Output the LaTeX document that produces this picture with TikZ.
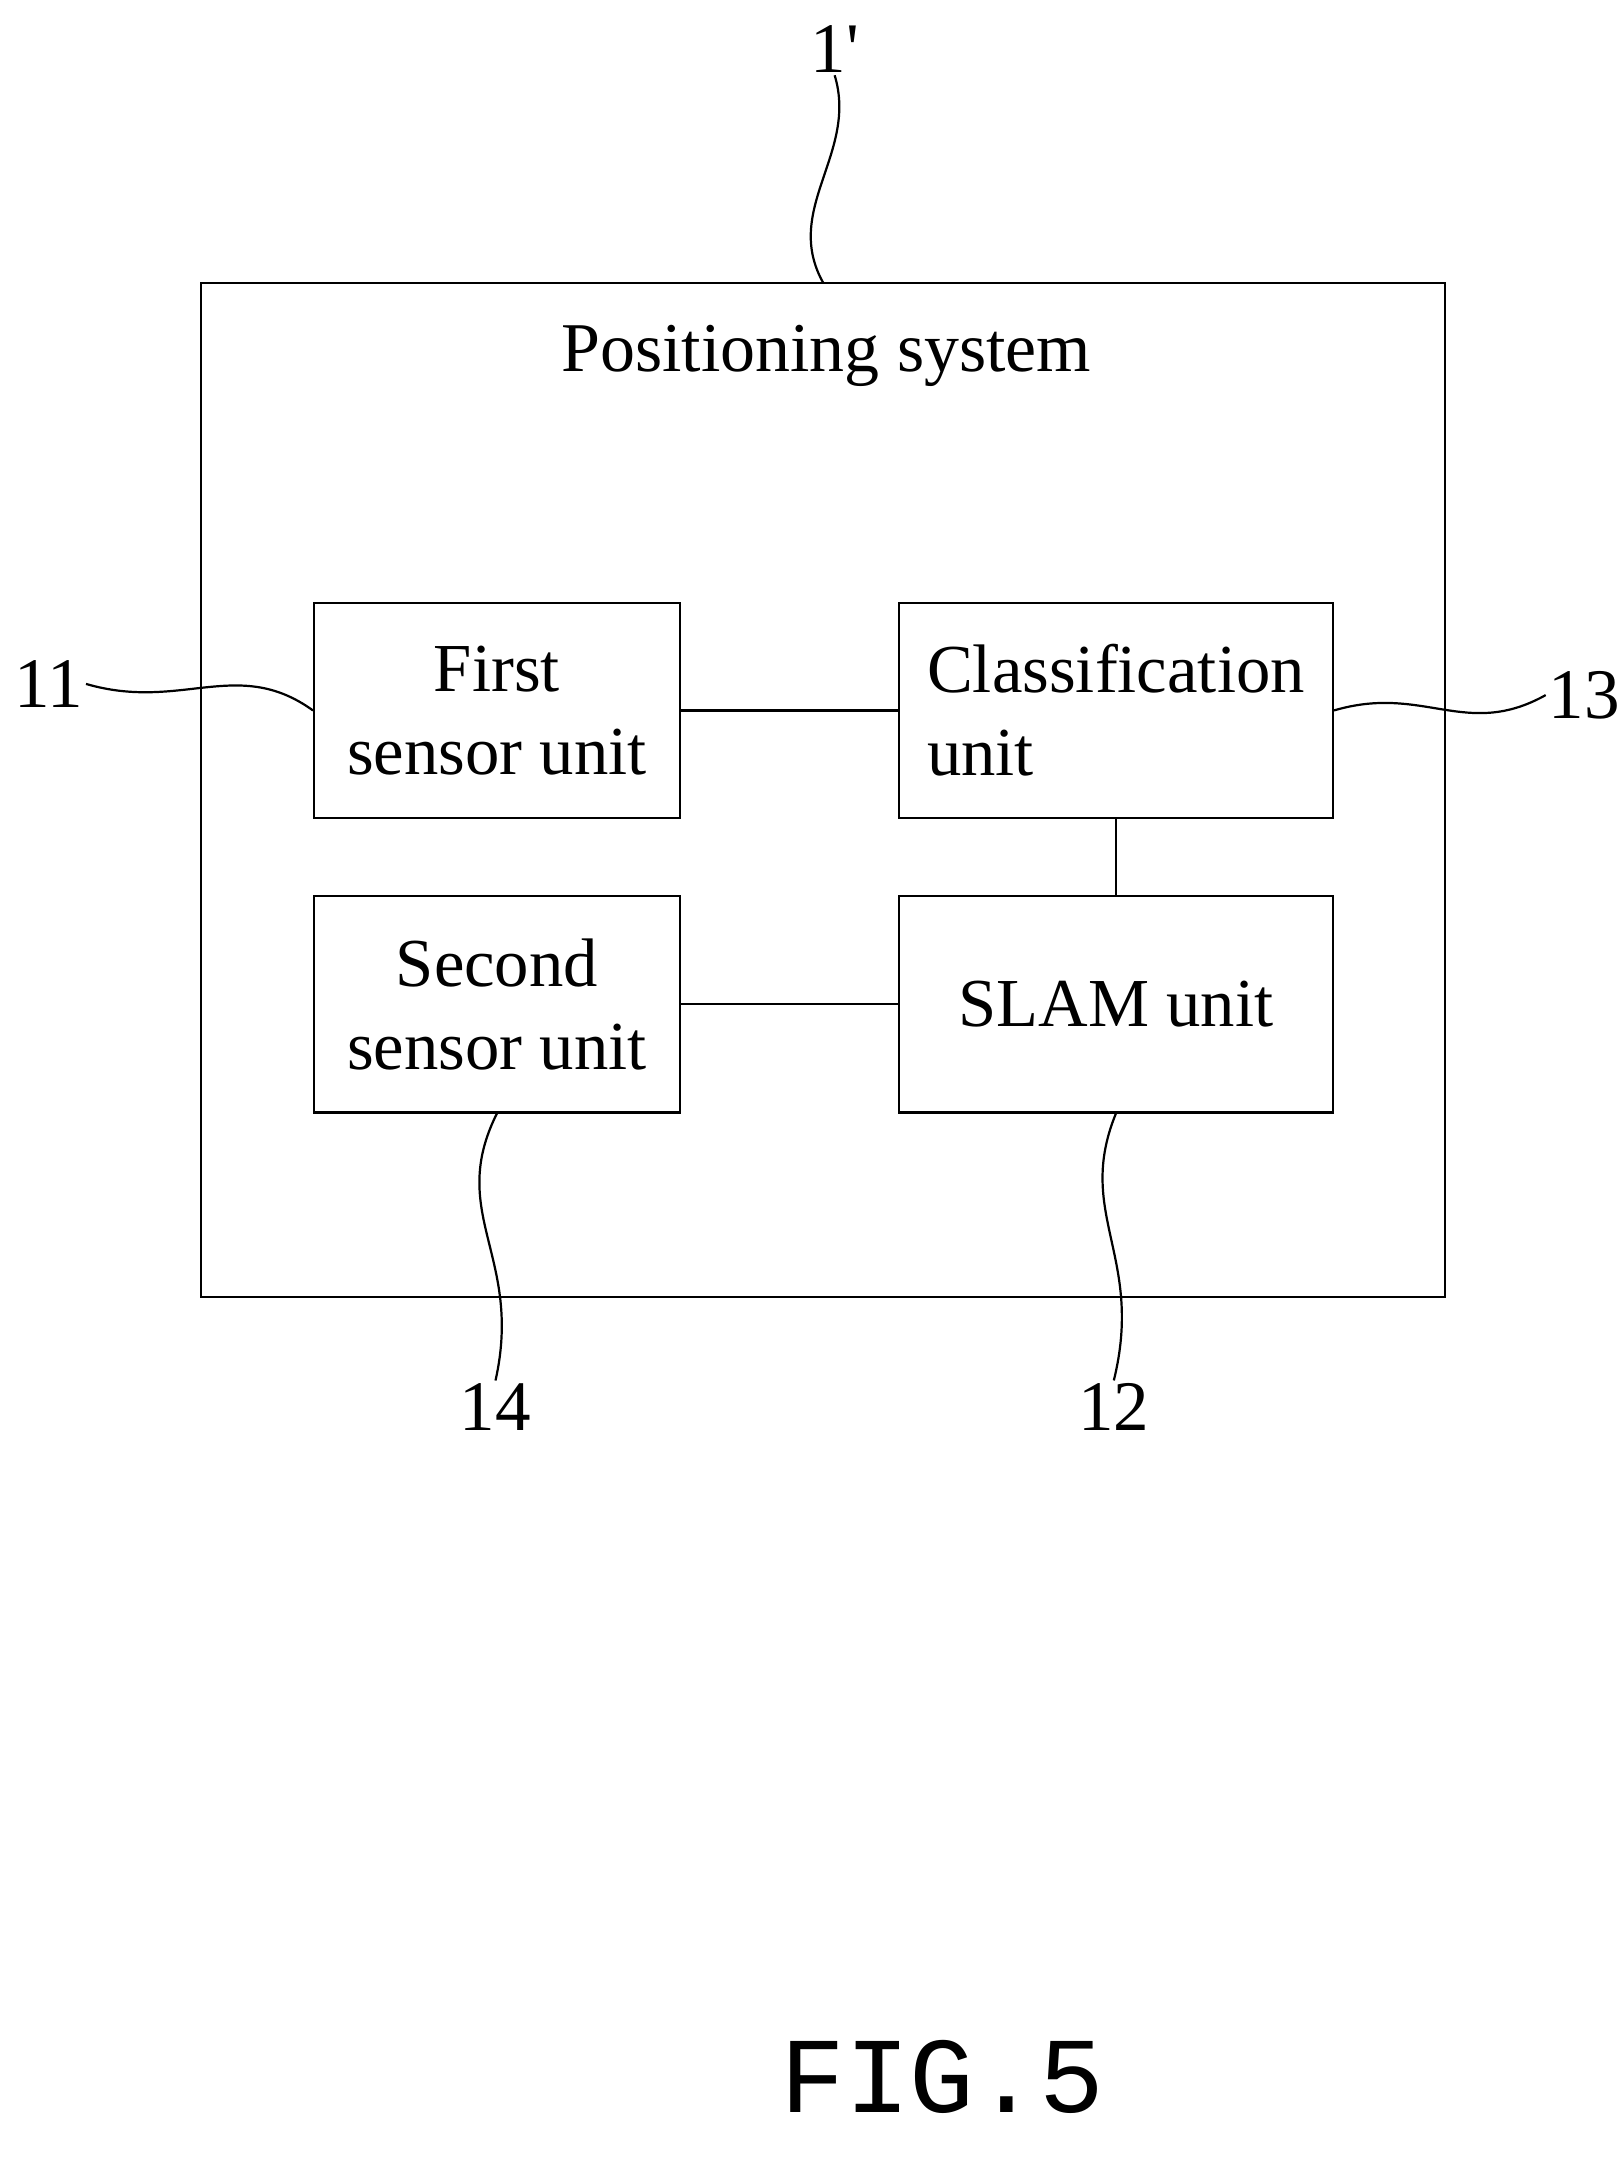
\documentclass[tikz,border=0pt]{standalone}
\usepackage{fontspec}
\setmainfont{Liberation Serif}
\newfontfamily\figfont{Liberation Mono}
\usetikzlibrary{positioning}

\begin{document}
\begin{tikzpicture}[x=0.02cm, y=-0.02cm,
      box/.style={rectangle, draw, line width=0.9pt, inner sep=0pt, align=center, font=\fontsize{28}{34}\selectfont},
      lbl/.style={font=\fontsize{29}{34}\selectfont, inner sep=1pt},
      link/.style={line width=0.9pt}
    ]
    \useasboundingbox (0,0) rectangle (1162,1554);

    % Outer system box
    \draw[link] (144,203) rectangle (1035,929);
    \node[font=\fontsize{28.5}{34}\selectfont] (title) at (592,255) {Positioning system};

    % Units
    \node[box, minimum width=5.24cm, minimum height=3.08cm] (first) at (356,509) {First\\ sensor unit};
    \node[box, minimum width=6.22cm, minimum height=3.08cm, align=left] (class) at (799.5,509) {Classification\\unit};
    \node[box, minimum width=5.24cm, minimum height=3.1cm] (second) at (356,719.5) {Second\\ sensor unit};
    \node[box, minimum width=6.22cm, minimum height=3.1cm] (slam) at (799.5,719.5) {SLAM unit};

    % Links
    \draw[link] (first) -- (class);
    \draw[link] (class) -- (slam);
    \draw[link] (second) -- (slam);

    % Reference numerals
    \node[lbl] (n1) at (598,35) {1\textquotesingle};
    \node[lbl] (n11) at (35,490) {11};
    \node[lbl] (n13) at (1135,498) {13};
    \node[lbl] (n14) at (355,1008) {14};
    \node[lbl] (n12) at (798,1008) {12};

    \coordinate (top) at (590,203);
    \draw[link] (n1.south) .. controls (615,110) and (560,150) .. (top);
    \draw[link] (n11.east) .. controls (130,510) and (170,470) .. (first.west);
    \draw[link] (class.east) .. controls (1020,490) and (1050,530) .. (n13.west);
    \draw[link] (second.south) .. controls (320,870) and (375,900) .. (n14.north);
    \draw[link] (slam.south) .. controls (770,870) and (820,900) .. (n12.north);

    \node[font=\figfont\fontsize{44}{50}\selectfont] (fig) at (675,1488) {FIG.5};
\end{tikzpicture}
\end{document}
